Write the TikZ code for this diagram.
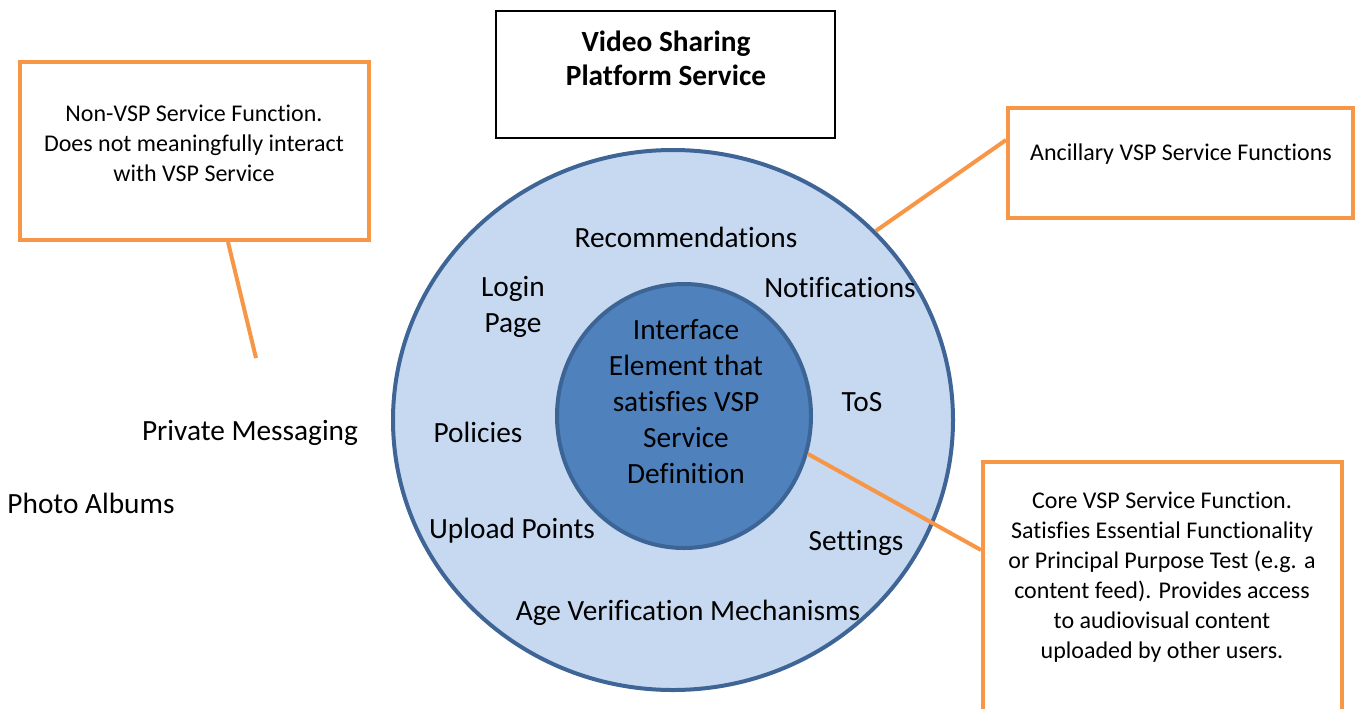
\documentclass[tikz,border=0pt]{standalone}
\usepackage{fontspec}
\setmainfont{Carlito}[Ligatures={NoCommon}]
\usetikzlibrary{shapes.geometric,calc}
\definecolor{vorange}{HTML}{F79646}
\definecolor{outerfill}{HTML}{C6D9F1}
\definecolor{outerline}{HTML}{3F6496}
\definecolor{innerfill}{HTML}{4F81BD}
\definecolor{innerline}{HTML}{3C6595}
\begin{document}
\begin{tikzpicture}[x=0.75pt,y=-0.75pt,
  orangebox/.style={draw=vorange, line width=3pt, fill=white, inner sep=0pt},
  titlebox/.style={draw=black, line width=0.9pt, fill=white, inner sep=0pt},
  lbl/.style={font=\fontsize{22}{27}\selectfont, inner sep=0pt, align=center},
  note/.style={font=\fontsize{18}{22.5}\selectfont, inner sep=0pt, align=center},
  conn/.style={draw=vorange, line width=3pt}]
\useasboundingbox (0,0) rectangle (1360,708);

% circles
\node[ellipse, draw=outerline, fill=outerfill, line width=3pt, inner sep=0pt,
      minimum width=420pt, minimum height=405pt] (outer) at (673,420) {};
\node[ellipse, draw=innerline, fill=innerfill, line width=3pt, inner sep=0pt,
      minimum width=190.5pt, minimum height=198pt] (inner) at (684,416) {};

% boxes
\node[titlebox, minimum width=254.25pt, minimum height=95.25pt] (tbox) at (665.5,74.5) {};
\node[orangebox, minimum width=261.75pt, minimum height=133.5pt] (lbox) at (194.5,151) {};
\node[orangebox, minimum width=258.75pt, minimum height=82.5pt] (trbox) at (1180.5,163) {};
\node[orangebox, minimum width=269.25pt, minimum height=208.5pt] (brbox) at (1162.5,601) {};

% connectors
\coordinate (lfree) at (256,358);
\draw[conn] ($(lbox.south west)+(210,0)$) -- (lfree);
\draw[conn] ($(trbox.north west)+(0,34)$) -- (outer.43);
\draw[conn] (inner.-17) -- ($(brbox.north west)+(0,90)$);

% box texts
\node[lbl, font=\fontsize{22}{25.5}\selectfont\bfseries] (ttext) at (666,58.5) {Video Sharing\\Platform Service};
\node[note] (ltext) at (194,143) {Non-VSP Service Function.\\Does not meaningfully interact\\with VSP Service};
\node[note] (trtext) at (1181,154) {Ancillary VSP Service Functions};
\node[note] (brtext) at (1162,577) {Core VSP Service Function.\\Satisfies Essential Functionality\\or Principal Purpose Test (e.g. a\\content feed). Provides access\\to audiovisual content\\uploaded by other users.};

% labels
\node[lbl] (intext) at (686,402) {Interface\\Element that\\satisfies VSP\\Service\\Definition};
\node[lbl] (rec) at (686,237) {Recommendations};
\node[lbl] (login) at (513,307) {Login\\Page};
\node[lbl] (notif) at (840,288) {Notifications};
\node[lbl] (tos) at (862,402) {ToS};
\node[lbl] (pol) at (478,432) {Policies};
\node[lbl] (upl) at (512,531) {Upload Points};
\node[lbl] (set) at (856,543) {Settings};
\node[lbl] (age) at (688,613) {Age Verification Mechanisms};
\node[lbl] (pm) at (250,433) {Private Messaging};
\node[lbl] (pa) at (91,503) {Photo Albums};
\end{tikzpicture}
\end{document}
